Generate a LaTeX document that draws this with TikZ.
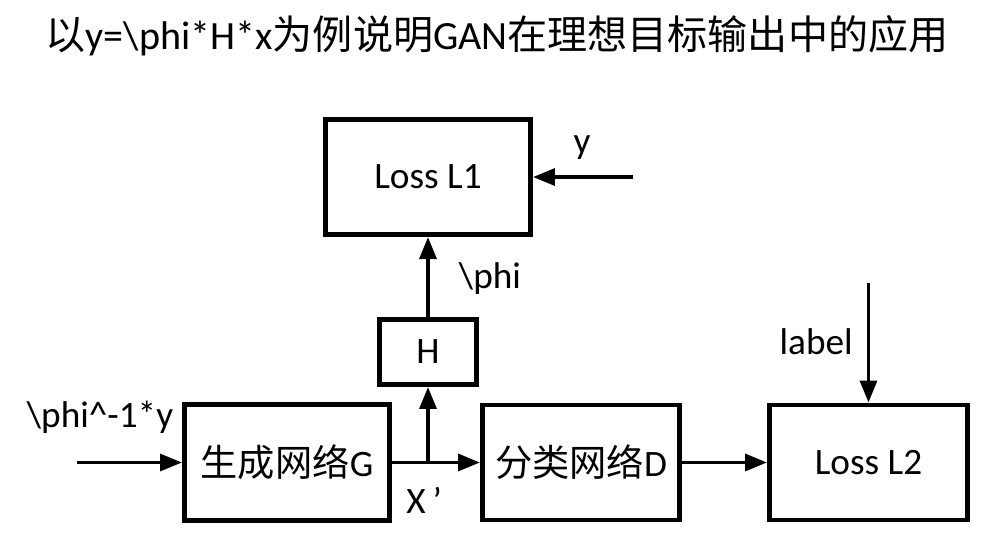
\documentclass[tikz,border=0pt]{standalone}
\usepackage{fontspec}
\setmainfont{Carlito}
\newfontfamily\cjk{Noto Sans CJK SC}
\usetikzlibrary{positioning, arrows.meta}

\begin{document}
\begin{tikzpicture}[
    x=0.025cm, y=-0.025cm,
    >={Triangle[length=0.55cm, width=0.42cm]},
    node distance=2cm,
    block/.style={
        rectangle, draw, line width=3.5pt, inner sep=0pt,
        text centered, font=\fontsize{26.5}{30}\selectfont
    },
    arrow/.style={->, line width=2.8pt},
    tag/.style={inner sep=0pt, font=\fontsize{26.5}{30}\selectfont},
]
\useasboundingbox (0,0) rectangle (994,543);

% ── Title ──────────────────────────────────────────────────────────────────
\node[tag, font=\fontsize{28.5}{33}\selectfont] (title) at (497,36)
    {{\cjk 以}y=\textbackslash phi*H*x{\cjk 为例说明}GAN{\cjk 在理想目标输出中的应用}};

% ── Generator ─────────────────────────────────────────────────────────────
\node[block, minimum width=5.125cm, minimum height=2.9cm] (gen) at (287,462.5)
    {{\cjk 生成网络}G};
\coordinate[left=2.625cm of gen.west] (phiin);
\node[tag] (phiinv) at (100,417) {\textbackslash phi\textasciicircum-1*y};

% ── Discriminator ─────────────────────────────────────────────────────────
\node[block, right=2.2cm of gen, minimum width=4.925cm, minimum height=2.875cm] (disc)
    {{\cjk 分类网络}D};

% ── Loss L2 ───────────────────────────────────────────────────────────────
\node[block, right=2.125cm of disc, minimum width=4.95cm, minimum height=2.875cm] (lossB)
    {Loss L2};
\coordinate[above=2.975cm of lossB.north] (labelin);
\node[tag, anchor=east] (labeltxt) at (853,342) {label};

% ── H and Loss L1 ─────────────────────────────────────────────────────────
\node[block, minimum width=2.425cm, minimum height=1.625cm] (hop) at (428,352) {H};
\node[block, above=2cm of hop, minimum width=5.125cm, minimum height=2.875cm] (lossA)
    {Loss L1};
\coordinate[right=2.5cm of lossA.east] (yin);
\node[tag] (ytxt) at (582,148) {y};
\node[tag] (phitxt) at (490,279) {\textbackslash phi};

% ── Split point ───────────────────────────────────────────────────────────
\coordinate (split) at (hop.south |- gen.east);
\node[tag, anchor=west] (xtxt) at (406,500) {X\hspace{5pt}’};

% ── Arrows ───────────────────────────────────────────────────────────────
\draw[arrow] (phiin) -- (gen);
\draw[arrow] (gen) -- (disc);
\draw[arrow] (split) -- (hop);
\draw[arrow] (hop) -- (lossA);
\draw[arrow] (yin) -- (lossA);
\draw[arrow] (disc) -- (lossB);
\draw[arrow] (labelin) -- (lossB);

\end{tikzpicture}
\end{document}
